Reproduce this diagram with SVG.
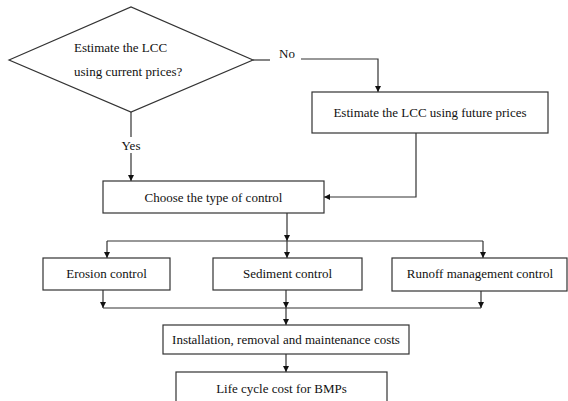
<svg xmlns="http://www.w3.org/2000/svg" width="568" height="401" viewBox="0 0 568 401">
  <style>
    .box { fill: #ffffff; stroke: #333333; stroke-width: 1.2; }
    .ln { fill: none; stroke: #333333; stroke-width: 1.2; }
    .t { font-family: "Liberation Serif", "Times New Roman", serif; font-size: 13px; fill: #111111; }
    .c { text-anchor: middle; }
  </style>
  <defs>
    <marker id="arr" viewBox="0 0 10 10" refX="10" refY="5" markerWidth="6" markerHeight="7" markerUnits="userSpaceOnUse" orient="auto">
      <path d="M0,0 L10,5 L0,10 Z" fill="#111111"/>
    </marker>
  </defs>
  <rect width="568" height="401" fill="#ffffff"/>

  <g id="connectors">
    <polyline class="ln" points="131,112 131,137"/>
    <polyline class="ln" points="131,153 131,181" marker-end="url(#arr)"/>
    <polyline class="ln" points="253,60 270,60"/>
    <polyline class="ln" points="301,59 378,59 378,92" marker-end="url(#arr)"/>
    <polyline class="ln" points="416,133 416,197 324,197" marker-end="url(#arr)"/>
    <polyline class="ln" points="287,213 287,241" marker-end="url(#arr)"/>
    <polyline class="ln" points="107,241 483,241"/>
    <polyline class="ln" points="107,241 107,258" marker-end="url(#arr)"/>
    <polyline class="ln" points="287,241 287,258" marker-end="url(#arr)"/>
    <polyline class="ln" points="483,241 483,258" marker-end="url(#arr)"/>
    <polyline class="ln" points="103,290 103,308" marker-end="url(#arr)"/>
    <polyline class="ln" points="286,290 286,308" marker-end="url(#arr)"/>
    <polyline class="ln" points="481,291 481,308" marker-end="url(#arr)"/>
    <polyline class="ln" points="103,308 481,308"/>
    <polyline class="ln" points="286,308 286,325" marker-end="url(#arr)"/>
    <polyline class="ln" points="286,354 286,372" marker-end="url(#arr)"/>
    <text class="t c" x="131" y="150">Yes</text>
    <text class="t" x="279" y="58">No</text>
  </g>

  <g id="decision">
    <polygon class="box" points="9,60 131,7 253,60 131,112"/>
    <text class="t" x="74" y="52">Estimate the LCC</text>
    <text class="t" x="74" y="76">using current prices?</text>
  </g>

  <g id="future">
    <rect class="box" x="312" y="92" width="236" height="41"/>
    <text class="t c" x="430" y="117">Estimate the LCC using future prices</text>
  </g>

  <g id="choose">
    <rect class="box" x="103" y="181" width="221" height="32"/>
    <text class="t c" x="213.5" y="201.5">Choose the type of control</text>
  </g>

  <g id="erosion">
    <rect class="box" x="43" y="258" width="127" height="32"/>
    <text class="t c" x="106.5" y="277.5">Erosion control</text>
  </g>

  <g id="sediment">
    <rect class="box" x="213" y="258" width="149" height="32"/>
    <text class="t c" x="287.5" y="277.5">Sediment control</text>
  </g>

  <g id="runoff">
    <rect class="box" x="392" y="258" width="175" height="33"/>
    <text class="t c" x="480" y="278">Runoff management control</text>
  </g>

  <g id="installation">
    <rect class="box" x="163" y="325" width="246" height="29"/>
    <text class="t c" x="286" y="344">Installation, removal and maintenance costs</text>
  </g>

  <g id="lifecycle">
    <rect class="box" x="176" y="372" width="211" height="40"/>
    <text class="t c" x="281.5" y="393">Life cycle cost for BMPs</text>
  </g>
</svg>
